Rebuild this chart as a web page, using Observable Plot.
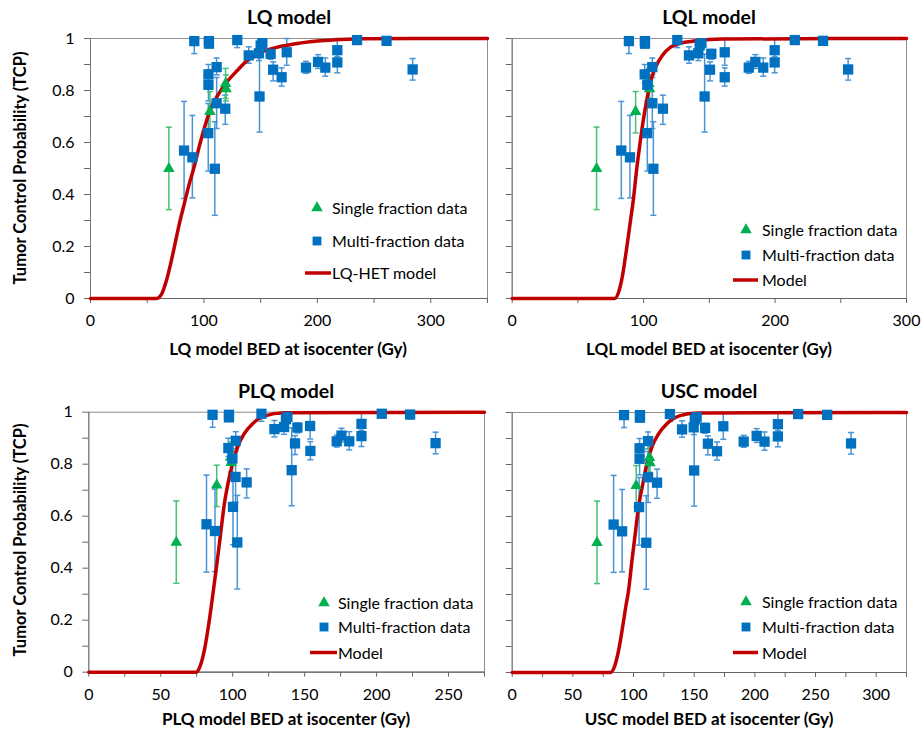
<!DOCTYPE html>
<html><head><meta charset="utf-8">
<script src="https://cdn.jsdelivr.net/npm/d3@7"></script>
<script src="https://cdn.jsdelivr.net/npm/@observablehq/plot@0.6"></script>
<style>
body{margin:0;background:#fff;}
#root{position:relative;width:921px;height:730px;font-family:Lato,"Open Sans",sans-serif;color:#000;overflow:hidden;}
.ttl{position:absolute;font-weight:bold;font-size:19.5px;line-height:1.1;transform:translate(-50%,-50%);white-space:nowrap;}
.xl{position:absolute;font-weight:bold;font-size:17px;line-height:1.05;transform:translate(-50%,-50%);white-space:nowrap;}
.yl{position:absolute;font-weight:bold;font-size:16.5px;line-height:1.1;transform:translate(-50%,-50%) rotate(-90deg);white-space:nowrap;}
.panel{position:absolute;}
.lt{position:absolute;font-size:16px;line-height:1;transform:translateY(-50%);white-space:nowrap;}
.ls{position:absolute;overflow:visible;}
</style></head>
<body><div id="root"></div>
<script>
// ---------- data ----------
const panelTitles = ["LQ model", "LQL model", "PLQ model", "USC model"];
const xAxisTitles = ["LQ model BED at isocenter (Gy)", "LQL model BED at isocenter (Gy)", "PLQ model BED at isocenter (Gy)", "USC model BED at isocenter (Gy)"];
const yAxisTitle = "Tumor Control Probability (TCP)";
const legendLabels = ["Single fraction data", "Multi-fraction data"];
const modelLabels = ["LQ-HET model", "Model", "Model", "Model"];

// multi-fraction studies (TCP and error bar ends, same studies in every panel)
const tcpMulti   = [0.99, 0.99, 0.98, 0.994, 0.935, 0.943, 0.973, 0.982, 0.777, 0.941, 0.88, 0.851, 0.947, 0.888, 0.91, 0.888, 0.955, 0.908, 0.994, 0.991, 0.881, 0.569, 0.543, 0.862, 0.822, 0.636, 0.89, 0.751, 0.499, 0.73];
const tcpMultiLo = [0.942, 0.975, 0.965, 0.965, 0.905, 0.915, 0.955, 0.97, 0.64, 0.92, 0.837, 0.817, 0.897, 0.866, 0.885, 0.855, 0.93, 0.868, 0.985, 0.975, 0.84, 0.385, 0.387, 0.83, 0.76, 0.49, 0.86, 0.654, 0.32, 0.67];
const tcpMultiHi = [1.0, 1.0, 0.995, 1.0, 0.968, 0.96, 0.99, 0.995, 0.94, 0.958, 0.91, 0.887, 1.0, 0.912, 0.938, 0.925, 1.0, 0.95, 1.0, 1.0, 0.923, 0.758, 0.704, 0.9, 0.88, 0.75, 0.925, 0.85, 0.68, 0.782];
const bedMultiLQ  = [91.5, 104.4, 104.4, 129.4, 139.5, 148.5, 150, 151.5, 149, 158.8, 161, 168.5, 173, 190, 200.6, 207, 217.6, 217.6, 235, 261, 284, 82.5, 89.8, 104, 104, 103.8, 111.2, 111.2, 109.6, 118.8];
const bedMultiLQL = [88.8, 101, 101, 125.6, 134.5, 141.6, 142.6, 144, 146.4, 151.5, 150.5, 161.7, 161.7, 180, 185, 191, 199.7, 199.7, 215, 236.5, 255.6, 83, 89.6, 100.8, 102.8, 102.8, 106.6, 106.6, 107.4, 114.7];
const bedMultiPLQ = [86, 97.4, 97.4, 120, 129, 135.7, 137, 138, 141, 145, 143.3, 154, 153.8, 172.3, 175.6, 181, 189.5, 189.5, 203.6, 223.3, 241, 81.8, 87.7, 97, 99.8, 100.2, 102.1, 102, 103.2, 109.7];
const bedMultiUSC = [92.2, 105.3, 105.3, 130, 140, 149.6, 150.5, 152, 150, 159, 161.3, 168.8, 174, 190.8, 201.5, 208, 219, 219, 235.7, 259.6, 279.3, 83.6, 90.6, 105, 105, 104.6, 112, 112, 110.5, 119.4];

// single-fraction studies
const tcpSingle   = [0.499, 0.719, 0.826, 0.806];
const tcpSingleLo = [0.342, 0.637, 0.77, 0.76];
const tcpSingleHi = [0.659, 0.796, 0.885, 0.86];
const bedSingleLQ  = [69.1, 105.3, 119.1, 119.5];
const bedSingleLQL = [64.2, 93.9, 104, 104.5];
const bedSinglePLQ = [60.8, 88.9, 98.6, 99];
const bedSingleUSC = [69.9, 102.2, 113.2, 113.5];

// model curves
const curveLQx  = [0, 58, 63, 67, 71, 75, 79, 83, 87, 91, 96.5, 101.5, 106, 112, 119, 129.4, 138, 150, 165, 177, 200, 240, 350];
const curveLQy  = [0, 0, 0.02, 0.07, 0.14, 0.22, 0.30, 0.37, 0.44, 0.50, 0.595, 0.672, 0.73, 0.78, 0.826, 0.877, 0.915, 0.947, 0.967, 0.977, 0.99, 0.999, 1];
const curveLQLx = [0, 78, 81, 84, 87, 90, 92.1, 94.6, 97.2, 99.7, 102.3, 104.8, 109.1, 114.2, 120.5, 128.1, 138.3, 160, 300];
const curveLQLy = [0, 0, 0.025, 0.09, 0.19, 0.30, 0.377, 0.492, 0.595, 0.685, 0.76, 0.826, 0.89, 0.935, 0.967, 0.982, 0.99, 0.998, 1];
const curvePLQx = [0, 74.5, 77.5, 80.5, 83.5, 86, 89.3, 91.6, 93.9, 96.7, 99.8, 103.3, 107.9, 113.7, 121.8, 135.7, 275];
const curvePLQy = [0, 0, 0.025, 0.09, 0.19, 0.29, 0.43, 0.532, 0.635, 0.725, 0.80, 0.865, 0.917, 0.955, 0.985, 0.998, 1];
const curveUSCx = [0, 81, 84.5, 87.5, 90.5, 93.5, 95.9, 98.7, 101.4, 104.1, 107.7, 111, 115.1, 120.6, 127.5, 138.4, 152, 325];
const curveUSCy = [0, 0, 0.025, 0.08, 0.16, 0.25, 0.315, 0.43, 0.533, 0.636, 0.726, 0.803, 0.867, 0.918, 0.957, 0.988, 0.998, 1];

const xMax = [350, 300, 275, 325];
const xTickStep = [50, 50, 25, 25];
const xLabelStep = [100, 100, 50, 50];
const yTicks = [0, 0.1, 0.2, 0.3, 0.4, 0.5, 0.6, 0.7, 0.8, 0.9, 1];

// ---------- styling ----------
const BLUE = "#0070c0", BLUE_ERR = "#4a94d6", GREEN = "#00b050", GREEN_ERR = "#45c274", RED = "#c00000";
const cap = {draw(ctx, size) { const w = Math.sqrt(size / Math.PI); ctx.moveTo(-w, 0); ctx.lineTo(w, 0); }};

const layouts = [
  {left: 0,   top: 0,   ml: 90,   mr: 13, mt: 38,   mb: 42,   yLabels: true},
  {left: 420, top: 0,   ml: 91.7, mr: 14, mt: 38,   mb: 42,   yLabels: false},
  {left: 0,   top: 372, ml: 88.3, mr: 16, mt: 39.7, mb: 40.3, yLabels: true},
  {left: 420, top: 372, ml: 91.7, mr: 14, mt: 40,   mb: 40,   yLabels: false}
];
const bedMultiAll = [bedMultiLQ, bedMultiLQL, bedMultiPLQ, bedMultiUSC];
const bedSingleAll = [bedSingleLQ, bedSingleLQL, bedSinglePLQ, bedSingleUSC];
const curveXAll = [curveLQx, curveLQLx, curvePLQx, curveUSCx];
const curveYAll = [curveLQy, curveLQLy, curvePLQy, curveUSCy];

const root = document.getElementById("root");

function makePanel(i) {
  const L = layouts[i];
  const multi = tcpMulti.map((y, k) => ({x: bedMultiAll[i][k], y, lo: tcpMultiLo[k], hi: tcpMultiHi[k]}));
  const single = tcpSingle.map((y, k) => ({x: bedSingleAll[i][k], y, lo: tcpSingleLo[k], hi: tcpSingleHi[k]}));
  const curve = curveXAll[i].map((x, k) => ({x, y: curveYAll[i][k]}));
  const xt = d3.range(0, xMax[i] + 0.001, xTickStep[i]);
  const svg = Plot.plot({
    width: 500, height: 340,
    marginLeft: L.ml, marginRight: L.mr, marginTop: L.mt, marginBottom: L.mb,
    style: {fontFamily: "Lato, 'Open Sans', sans-serif", fontSize: "16px", color: "#000", background: "transparent", overflow: "visible"},
    x: {domain: [0, xMax[i]]},
    y: {domain: [0, 1]},
    marks: [
      Plot.frame({stroke: "#8f8f8f", strokeWidth: 1}),
      Plot.axisX({ticks: xt, tickFormat: d => (d % xLabelStep[i] === 0 ? String(d) : ""), tickSize: 5, tickPadding: 11, label: null, stroke: "#666"}),
      Plot.axisY({ticks: yTicks, tickFormat: L.yLabels ? (d => (Math.round(d * 10) % 2 === 0 ? String(+d.toFixed(1)) : "")) : (() => ""), tickSize: 6, tickPadding: 10, label: null, stroke: "#666"}),
      Plot.ruleY([0], {stroke: "#666", strokeWidth: 1.2}),
      Plot.ruleX([0], {stroke: "#777"}),
      Plot.ruleX(multi, {x: "x", y1: "lo", y2: "hi", stroke: BLUE_ERR, strokeWidth: 1.5}),
      Plot.dot(multi, {x: "x", y: "lo", symbol: cap, r: 3, stroke: BLUE_ERR, fill: "none", strokeWidth: 1.5}),
      Plot.dot(multi, {x: "x", y: "hi", symbol: cap, r: 3, stroke: BLUE_ERR, fill: "none", strokeWidth: 1.5}),
      Plot.ruleX(single, {x: "x", y1: "lo", y2: "hi", stroke: GREEN_ERR, strokeWidth: 1.5}),
      Plot.dot(single, {x: "x", y: "lo", symbol: cap, r: 3, stroke: GREEN_ERR, fill: "none", strokeWidth: 1.5}),
      Plot.dot(single, {x: "x", y: "hi", symbol: cap, r: 3, stroke: GREEN_ERR, fill: "none", strokeWidth: 1.5}),
      Plot.line(curve, {x: "x", y: "y", stroke: RED, strokeWidth: 3.5, curve: "monotone-x"}),
      Plot.dot(single, {x: "x", y: "y", symbol: "triangle", r: 4.3, fill: GREEN, stroke: "none"}),
      Plot.dot(multi, {x: "x", y: "y", symbol: "square", r: 5.8, fill: BLUE, stroke: "none"})
    ]
  });
  svg.classList.add("panel");
  svg.style.left = L.left + "px";
  svg.style.top = L.top + "px";
  root.appendChild(svg);
}
[0, 1, 2, 3].forEach(makePanel);

function addText(cls, txt, x, y) {
  const d = document.createElement("div");
  d.className = cls; d.textContent = txt;
  d.style.left = x + "px"; d.style.top = y + "px";
  root.appendChild(d);
}
// titles & axis titles
const titlePos = [[289, 17], [709, 17], [286, 390.5], [709, 390.5]];
const xTitlePos = [[288, 348.5], [709, 348.5], [286, 718.5], [709, 718.5]];
titlePos.forEach((p, i) => addText("ttl", panelTitles[i], p[0], p[1]));
xTitlePos.forEach((p, i) => addText("xl", xAxisTitles[i], p[0], p[1]));
addText("yl", yAxisTitle, 20, 168);
addText("yl", yAxisTitle, 20, 540);

// legends
const legendPos = [
  {sx: 317, tx: 332, y1: 208, y2: 241, y3: 273, lx1: 305, lx2: 331},
  {sx: 746, tx: 762, y1: 230, y2: 255, y3: 280, lx1: 733, lx2: 758},
  {sx: 324, tx: 338, y1: 603, y2: 627, y3: 652.5, lx1: 310, lx2: 337},
  {sx: 746, tx: 762, y1: 602, y2: 627, y3: 652.5, lx1: 733, lx2: 758}
];
const NS = "http://www.w3.org/2000/svg";
legendPos.forEach((p, i) => {
  const s = document.createElementNS(NS, "svg");
  s.setAttribute("class", "ls");
  s.setAttribute("width", 921); s.setAttribute("height", 730);
  s.style.left = "0px"; s.style.top = "0px";
  const tri = document.createElementNS(NS, "path");
  tri.setAttribute("d", d3.symbol(d3.symbolTriangle, 4.3 * 4.3 * Math.PI)());
  tri.setAttribute("transform", `translate(${p.sx},${p.y1})`);
  tri.setAttribute("fill", GREEN);
  const sq = document.createElementNS(NS, "path");
  sq.setAttribute("d", d3.symbol(d3.symbolSquare, 5 * 5 * Math.PI)());
  sq.setAttribute("transform", `translate(${p.sx},${p.y2})`);
  sq.setAttribute("fill", BLUE);
  const ln = document.createElementNS(NS, "line");
  ln.setAttribute("x1", p.lx1); ln.setAttribute("x2", p.lx2);
  ln.setAttribute("y1", p.y3); ln.setAttribute("y2", p.y3);
  ln.setAttribute("stroke", RED); ln.setAttribute("stroke-width", 3.5);
  s.append(tri, sq, ln);
  root.appendChild(s);
  addText("lt", legendLabels[0], p.tx, p.y1);
  addText("lt", legendLabels[1], p.tx, p.y2);
  addText("lt", modelLabels[i], p.tx, p.y3);
});
</script></body></html>
